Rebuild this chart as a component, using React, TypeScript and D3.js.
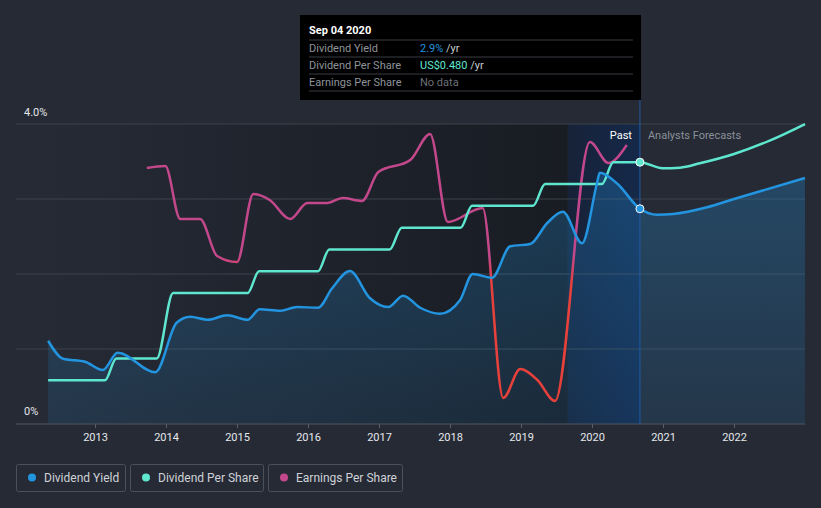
import { useEffect, useRef } from 'react';
import * as d3 from 'd3';

// [decimal year, value]
const yieldData: [number, number][] = [
  [2012.34, 1.11], [2012.55, 0.87], [2012.86, 0.83], [2013.11, 0.72], [2013.32, 0.95],
  [2013.85, 0.69], [2014.15, 1.35], [2014.34, 1.43], [2014.59, 1.39], [2014.86, 1.45],
  [2015.15, 1.39], [2015.32, 1.53], [2015.61, 1.51], [2015.85, 1.56], [2016.14, 1.55],
  [2016.34, 1.81], [2016.59, 2.04], [2016.87, 1.68], [2017.13, 1.56], [2017.34, 1.71],
  [2017.58, 1.55], [2017.86, 1.47], [2018.14, 1.65], [2018.32, 2.0], [2018.59, 1.95],
  [2018.85, 2.37], [2019.13, 2.4], [2019.37, 2.68], [2019.59, 2.83], [2019.86, 2.41],
  [2020.07, 3.21], [2020.11, 3.35], [2020.35, 3.21], [2020.675, 2.87],
  [2020.92, 2.79], [2021.14, 2.8], [2021.62, 2.89], [2022.0, 3.0], [2023.0, 3.28],
];

const dpsData: [number, number][] = [
  [2012.34, 0.08], [2013.14, 0.08], [2013.3, 0.12], [2013.87, 0.12], [2014.1, 0.24],
  [2015.15, 0.24], [2015.31, 0.28], [2016.14, 0.28], [2016.3, 0.32], [2017.15, 0.32],
  [2017.32, 0.36], [2018.15, 0.36], [2018.31, 0.4], [2019.17, 0.4], [2019.34, 0.44],
  [2020.14, 0.44], [2020.3, 0.48], [2020.675, 0.48],
  [2020.99, 0.469], [2021.24, 0.47], [2021.52, 0.478], [2022.0, 0.495], [2022.51, 0.52],
  [2023.0, 0.55],
];

const epsData: [number, number][] = [
  [2013.73, 0.664], [2013.99, 0.677], [2014.2, 0.333], [2014.48, 0.333], [2014.72, 0.092],
  [2015.0, 0.053], [2015.23, 0.495], [2015.46, 0.456], [2015.75, 0.333], [2015.99, 0.437],
  [2016.27, 0.437], [2016.49, 0.469], [2016.76, 0.45], [2016.99, 0.638], [2017.44, 0.716],
  [2017.72, 0.885], [2017.97, 0.313], [2018.46, 0.404], [2018.75, -0.831], [2018.99, -0.643],
  [2019.23, -0.714], [2019.48, -0.85], [2019.97, 0.833], [2020.23, 0.697], [2020.49, 0.814],
];

const yearTicks = [2013, 2014, 2015, 2016, 2017, 2018, 2019, 2020, 2021, 2022];
const yieldTicks = [0, 1, 2, 3, 4];
const startYear = 2012.34;
const endYear = 2023.0;
const pastStart = 2019.66;
const today = 2020.675;

const legendItems = [
  { label: 'Dividend Yield', color: '#2394df' },
  { label: 'Dividend Per Share', color: '#5fe6cf' },
  { label: 'Earnings Per Share', color: '#c2478b' },
];

const tooltipRows = [
  { label: 'Dividend Yield', value: '2.9%', unit: ' /yr', color: '#2394df' },
  { label: 'Dividend Per Share', value: 'US$0.480', unit: ' /yr', color: '#5fe6cf' },
  { label: 'Earnings Per Share', value: 'No data', unit: '', color: '#6c7079' },
];

export default function App() {
  const svgRef = useRef<SVGSVGElement>(null);

  useEffect(() => {
    document.body.style.margin = '0';
    document.body.style.background = '#252a35';
    if (!svgRef.current) return;
    const svg = d3.select(svgRef.current);
    svg.selectAll('*').remove();

    const font = 'Roboto, "Noto Sans", sans-serif';
    const top = 124;
    const bottom = 424;

    const x = d3.scaleLinear().domain([2013, 2022]).range([95, 734]);
    const yY = d3.scaleLinear().domain([0, 4]).range([bottom, top]);
    const yD = d3.scaleLinear().domain([0, 0.55]).range([bottom, top]);
    const yE = d3.scaleLinear().domain([-1, 0.95]).range([bottom, top]);

    svg.append('rect').attr('width', 821).attr('height', 508).attr('fill', '#252a35');

    const defs = svg.append('defs');
    const dark = defs.append('linearGradient').attr('id', 'darkband')
      .attr('x1', 0).attr('x2', 1).attr('y1', 0).attr('y2', 0);
    dark.append('stop').attr('offset', 0).attr('stop-color', '#181b22').attr('stop-opacity', 0);
    dark.append('stop').attr('offset', 1).attr('stop-color', '#181b22').attr('stop-opacity', 0.95);

    const past = defs.append('linearGradient').attr('id', 'pastband')
      .attr('x1', 0).attr('x2', 1).attr('y1', 0).attr('y2', 0);
    past.append('stop').attr('offset', 0).attr('stop-color', '#172238');
    past.append('stop').attr('offset', 1).attr('stop-color', '#15294a');

    const areaG = defs.append('linearGradient').attr('id', 'areafill')
      .attr('x1', 0).attr('x2', 0).attr('y1', 0).attr('y2', 1);
    areaG.append('stop').attr('offset', 0).attr('stop-color', '#2394df').attr('stop-opacity', 0.28);
    areaG.append('stop').attr('offset', 1).attr('stop-color', '#2394df').attr('stop-opacity', 0.12);

    const epsG = defs.append('linearGradient').attr('id', 'epsstroke')
      .attr('gradientUnits', 'userSpaceOnUse')
      .attr('x1', 0).attr('x2', 0).attr('y1', top).attr('y2', bottom);
    epsG.append('stop').attr('offset', 0.44).attr('stop-color', '#c2478b');
    epsG.append('stop').attr('offset', 0.53).attr('stop-color', '#e8403b');

    // background bands
    svg.append('rect')
      .attr('x', x(startYear)).attr('y', top)
      .attr('width', x(pastStart) - x(startYear)).attr('height', bottom - top)
      .attr('fill', 'url(#darkband)');
    svg.append('rect')
      .attr('x', x(pastStart)).attr('y', top)
      .attr('width', x(today) - x(pastStart)).attr('height', bottom - top)
      .attr('fill', 'url(#pastband)');

    // grid
    svg.append('g').selectAll('line').data(yieldTicks.slice(1)).join('line')
      .attr('x1', 16).attr('x2', 805)
      .attr('y1', (d) => yY(d)).attr('y2', (d) => yY(d))
      .attr('stroke', '#3d424c').attr('stroke-width', 1);

    // y labels
    svg.append('text').attr('x', 24).attr('y', yY(4) - 8).text('4.0%')
      .attr('fill', '#e6e8eb').attr('font-size', 11).attr('font-family', font);
    svg.append('text').attr('x', 24).attr('y', yY(0) - 9).text('0%')
      .attr('fill', '#e6e8eb').attr('font-size', 11).attr('font-family', font);

    // yield area
    const area = d3.area<[number, number]>()
      .x((d) => x(d[0])).y0(bottom).y1((d) => yY(d[1]))
      .curve(d3.curveMonotoneX);
    svg.append('path').datum(yieldData).attr('d', area).attr('fill', 'url(#areafill)');

    // x axis
    const axis = svg.append('g').attr('transform', `translate(0,${bottom})`)
      .call(d3.axisBottom(x).tickValues(yearTicks).tickFormat(d3.format('d')).tickSize(4).tickSizeOuter(0));
    axis.select('.domain').remove();
    axis.selectAll('line').attr('stroke', '#5a5f6a');
    axis.selectAll('text').attr('fill', '#e6e8eb').attr('font-size', 11)
      .attr('font-family', font).attr('dy', '0.95em');
    svg.append('line').attr('x1', 16).attr('x2', 805).attr('y1', bottom).attr('y2', bottom)
      .attr('stroke', '#50555f');

    // today line
    svg.append('line').attr('x1', x(today)).attr('x2', x(today)).attr('y1', 100).attr('y2', bottom)
      .attr('stroke', '#1f5aa6').attr('stroke-width', 1);

    const line = (yS: d3.ScaleLinear<number, number>) =>
      d3.line<[number, number]>().x((d) => x(d[0])).y((d) => yS(d[1])).curve(d3.curveMonotoneX);

    svg.append('path').datum(epsData).attr('d', line(yE)).attr('fill', 'none')
      .attr('stroke', 'url(#epsstroke)').attr('stroke-width', 2.5);
    svg.append('path').datum(dpsData).attr('d', line(yD)).attr('fill', 'none')
      .attr('stroke', '#5fe6cf').attr('stroke-width', 2.5);
    svg.append('path').datum(yieldData).attr('d', line(yY)).attr('fill', 'none')
      .attr('stroke', '#2394df').attr('stroke-width', 2.5);

    // dots at today
    const dpsToday = dpsData.find((d) => d[0] === today)!;
    const yieldToday = yieldData.find((d) => d[0] === today)!;
    svg.append('circle').attr('cx', x(today)).attr('cy', yD(dpsToday[1])).attr('r', 4)
      .attr('fill', '#5fe6cf').attr('stroke', '#ffffff').attr('stroke-width', 1);
    svg.append('circle').attr('cx', x(today)).attr('cy', yY(yieldToday[1])).attr('r', 4)
      .attr('fill', '#2394df').attr('stroke', '#ffffff').attr('stroke-width', 1);

    // past / forecast labels
    svg.append('text').attr('x', x(today) - 8).attr('y', 139).attr('text-anchor', 'end')
      .text('Past').attr('fill', '#ffffff').attr('font-size', 11).attr('font-family', font);
    svg.append('text').attr('x', x(today) + 8).attr('y', 139)
      .text('Analysts Forecasts').attr('fill', '#8b9099').attr('font-size', 11).attr('font-family', font);

    // tooltip
    const tt = svg.append('g').attr('transform', 'translate(300,15)');
    tt.append('rect').attr('width', 341).attr('height', 85).attr('fill', '#000000');
    tt.append('text').attr('x', 9).attr('y', 19).text('Sep 04 2020')
      .attr('fill', '#ffffff').attr('font-size', 11).attr('font-weight', 'bold').attr('font-family', font);
    tooltipRows.forEach((r, i) => {
      const yb = 25 + i * 17;
      tt.append('line').attr('x1', 9).attr('x2', 333).attr('y1', yb).attr('y2', yb)
        .attr('stroke', '#3a3d43');
      tt.append('text').attr('x', 9).attr('y', yb + 12).text(r.label)
        .attr('fill', '#8f939a').attr('font-size', 11).attr('font-family', font);
      const t = tt.append('text').attr('x', 120).attr('y', yb + 12)
        .attr('font-size', 11).attr('font-family', font);
      t.append('tspan').text(r.value).attr('fill', r.color);
      if (r.unit) t.append('tspan').text(r.unit).attr('fill', '#c9ccd1');
    });
    tt.append('line').attr('x1', 9).attr('x2', 333).attr('y1', 76).attr('y2', 76)
      .attr('stroke', '#3a3d43');

    // legend
    const widths = [109, 133, 134];
    let lx = 16;
    legendItems.forEach((it, i) => {
      const g = svg.append('g').attr('transform', `translate(${lx},464)`);
      g.append('rect').attr('x', 0.5).attr('y', 0.5).attr('width', widths[i]).attr('height', 27)
        .attr('rx', 2).attr('fill', 'none').attr('stroke', '#4b505b');
      g.append('circle').attr('cx', 16).attr('cy', 13.5).attr('r', 4).attr('fill', it.color);
      g.append('text').attr('x', 28).attr('y', 17.5).text(it.label)
        .attr('fill', '#cfd2d7').attr('font-size', 12).attr('font-family', font);
      lx += widths[i] + 5;
    });
  }, []);

  return <svg ref={svgRef} width={821} height={508} style={{ display: 'block' }} />;
}
